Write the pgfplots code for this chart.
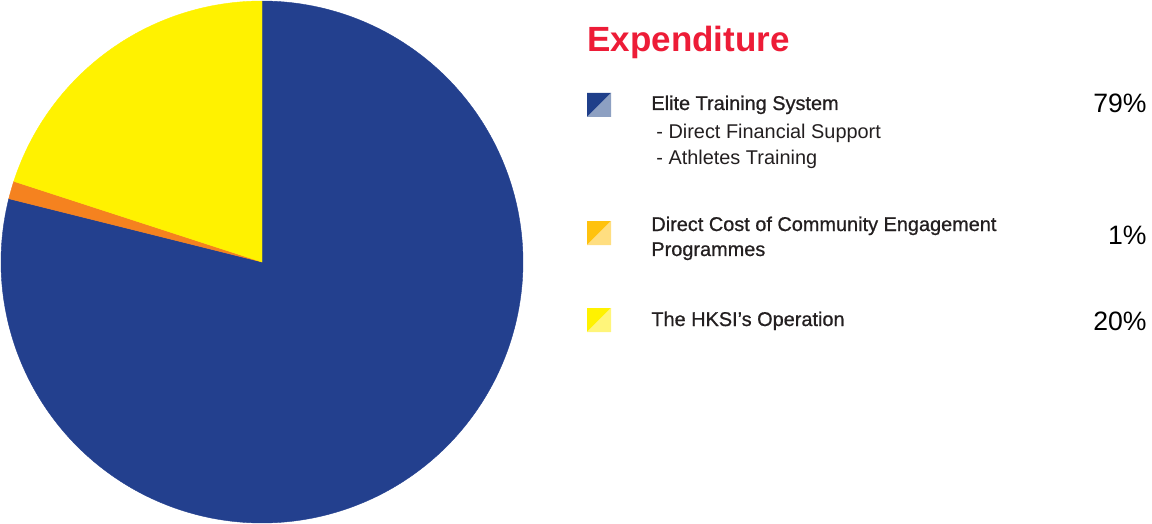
\documentclass[border=0pt]{standalone}
\usepackage{pgfplots}
\pgfplotsset{compat=1.18}
\usepackage{pgfplotstable}
\usepackage{fontspec}
\setmainfont{Liberation Sans}
\newfontfamily\medfont{Liberation Sans}[FakeBold=0.8]
\definecolor{pieblue}{HTML}{23408E}
\definecolor{pieorange}{HTML}{F5821F}
\definecolor{pieyellow}{HTML}{FFF200}
\definecolor{icblueA}{HTML}{1F3F8A}
\definecolor{icblueB}{HTML}{8DA0C2}
\definecolor{icorA}{HTML}{FFC20E}
\definecolor{icorB}{HTML}{FFDE80}
\definecolor{icyeA}{HTML}{FFF200}
\definecolor{icyeB}{HTML}{FFF57A}
\definecolor{titlered}{HTML}{ED1C37}
\definecolor{txt}{HTML}{231F20}
\pgfplotstableread{
slice value
Elite 78.9
Community 1.1
HKSI 20.0
}\slices
\begin{document}
\begin{tikzpicture}[x=0.5pt,y=-0.5pt]
\useasboundingbox (0,0) rectangle (1152,524);
\pgfplotstablegetelem{0}{value}\of\slices \let\va\pgfplotsretval
\pgfplotstablegetelem{1}{value}\of\slices \let\vb\pgfplotsretval
\pgfplotstablegetelem{2}{value}\of\slices \let\vc\pgfplotsretval
\pgfmathsetmacro\aA{90}
\pgfmathsetmacro\aB{90-3.6*\va}
\pgfmathsetmacro\aC{\aB-3.6*\vb}
\pgfmathsetmacro\aD{\aC-3.6*\vc}
\begin{axis}[
  at={(131pt,-131pt)}, anchor=center,
  scale only axis, width=261pt, height=261pt,
  xmin=-1, xmax=1, ymin=-1, ymax=1,
  hide axis, clip=false]
\addplot[fill=pieblue, draw=pieblue, line width=0.2pt, domain=\aB:\aA, samples=300, variable=\t] ({cos(\t)},{sin(\t)}) -- (axis cs:0,0) -- cycle;
\addplot[fill=pieorange, draw=pieorange, line width=0.2pt, domain=\aC:\aB, samples=20, variable=\t] ({cos(\t)},{sin(\t)}) -- (axis cs:0,0) -- cycle;
\addplot[fill=pieyellow, draw=pieyellow, line width=0.2pt, domain=\aD:\aC, samples=100, variable=\t] ({cos(\t)},{sin(\t)}) -- (axis cs:0,0) -- cycle;
\end{axis}
% title
\node[anchor=base west, inner sep=0pt, text=titlered, font=\fontsize{17.5}{20}\selectfont\bfseries] at (587,52) {Expenditure};
% icons
\fill[icblueA] (587,93) -- (611,93) -- (587,117) -- cycle;
\fill[icblueB] (611,93) -- (611,117) -- (587,117) -- cycle;
\fill[icorA] (587,221) -- (611,221) -- (587,245) -- cycle;
\fill[icorB] (611,221) -- (611,245) -- (587,245) -- cycle;
\fill[icyeA] (587,308) -- (611,308) -- (587,332) -- cycle;
\fill[icyeB] (611,308) -- (611,332) -- (587,332) -- cycle;
% labels
\begin{scope}[every node/.style={anchor=base west, inner sep=0pt, text=txt}]
\node[font=\medfont\fontsize{9.95}{11}\selectfont] at (651,110) {Elite Training System};
\node[font=\fontsize{9.95}{11}\selectfont] at (656,139) {- Direct Financial Support};
\node[font=\fontsize{9.95}{11}\selectfont] at (656,165) {- Athletes Training};
\node[font=\medfont\fontsize{9.95}{11}\selectfont] at (651,231) {Direct Cost of Community Engagement};
\node[font=\medfont\fontsize{9.95}{11}\selectfont] at (651,256) {Programmes};
\node[font=\medfont\fontsize{9.95}{11}\selectfont] at (651,326) {The HKSI’s Operation};
\end{scope}
\begin{scope}[every node/.style={anchor=base east, inner sep=0pt, text=black, font=\fontsize{13.3}{15}\selectfont}]
\node at (1147,113) {79\%};
\node at (1147,244) {1\%};
\node at (1147,330) {20\%};
\end{scope}
\end{tikzpicture}
\end{document}
